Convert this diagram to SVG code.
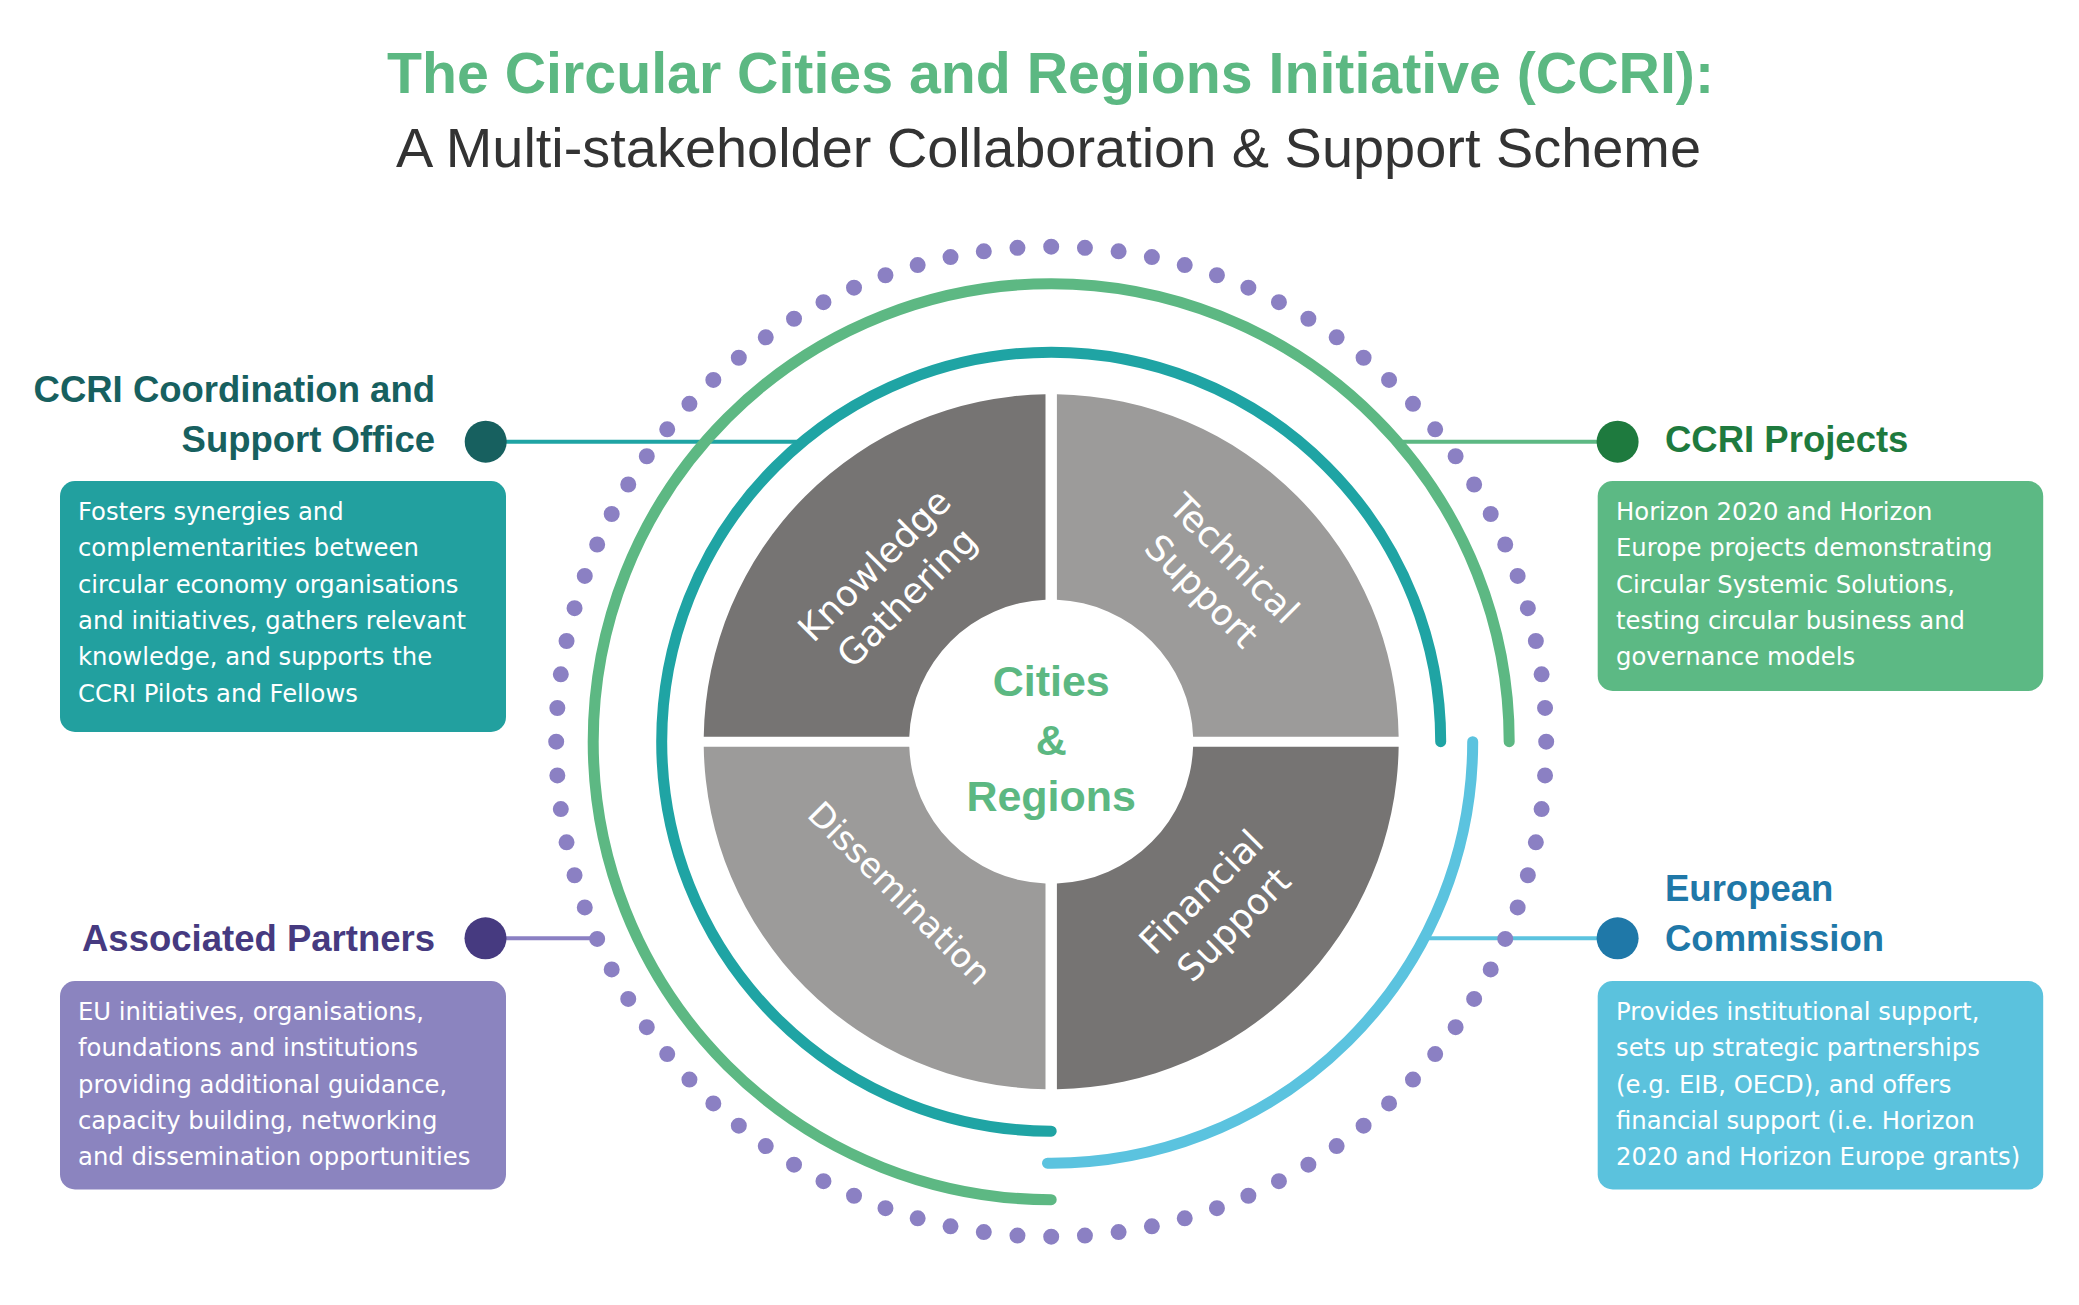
<svg xmlns="http://www.w3.org/2000/svg" width="2079" height="1305" viewBox="0 0 2079 1305">
<style>
.title{font-family:"Liberation Sans",Arial,sans-serif;font-weight:bold;font-size:57px;fill:#5cb882}
.subtitle{font-family:"Liberation Sans",Arial,sans-serif;font-size:56px;fill:#333333}
.hdr{font-family:"Liberation Sans",Arial,sans-serif;font-weight:bold;font-size:36.5px}
.body{font-family:"DejaVu Sans",sans-serif;font-size:24.3px;fill:#ffffff}
.seg{font-family:"DejaVu Sans",sans-serif;font-size:36px;fill:#ffffff;text-anchor:middle}
.center{font-family:"Liberation Sans",Arial,sans-serif;font-weight:bold;font-size:43px;fill:#5cb882;text-anchor:middle}
.ring{fill:none;stroke-width:11;stroke-linecap:round}
.conn{fill:none;stroke-width:4}
.dark{fill:#767473}
.light{fill:#9c9b9a}
</style>
<rect width="2079" height="1305" fill="#ffffff"/>

<g id="title">
<text class="title" x="387" y="93.3" textLength="1327" lengthAdjust="spacingAndGlyphs">The Circular Cities and Regions Initiative (CCRI):</text>
<text class="subtitle" x="396" y="166.5" textLength="1305" lengthAdjust="spacingAndGlyphs">A Multi-stakeholder Collaboration &amp; Support Scheme</text>
</g>

<g id="connectors">
<path class="conn" stroke="#1fa4a4" d="M485.7 441.7 H803"/>
<path class="conn" stroke="#5db883" d="M1397 441.7 H1617.6"/>
<path class="conn" stroke="#8b80c3" d="M485.5 938.3 H597"/>
<path class="conn" stroke="#5bc3df" d="M1424 938.3 H1617.6"/>
</g>

<g id="rings">
<circle cx="1051.2" cy="741.7" r="495" fill="none" stroke="#8b80c3" stroke-width="16" stroke-linecap="round" stroke-dasharray="0 1" pathLength="92"/>
<path class="ring" stroke="#5db883" d="M1051.2 1199.7 A458 458 0 1 1 1509.2 741.7"/>
<path class="ring" stroke="#5bc3df" d="M1472.7 741.7 A421.5 421.5 0 0 1 1047.5 1163.2"/>
<path class="ring" stroke="#1fa4a4" d="M1051.2 1131.2 A389.5 389.5 0 1 1 1440.7 741.7"/>
</g>

<g id="knowledge-gathering">
<path class="dark" d="M703.74 736.7 A347.5 347.5 0 0 1 1045.5 394.25 L1045.5 599.8 A142 142 0 0 0 909.29 736.7 Z"/>
<g transform="translate(892.3 583) rotate(-45)">
<text class="seg" x="0" y="-13">Knowledge</text>
<text class="seg" x="0" y="33">Gathering</text>
</g>
</g>

<g id="technical-support">
<path class="light" d="M1056.9 394.25 A347.5 347.5 0 0 1 1398.66 736.7 L1193.11 736.7 A142 142 0 0 0 1056.9 599.8 Z"/>
<g transform="translate(1216.1 576.6) rotate(45)">
<text class="seg" x="0" y="-13">Technical</text>
<text class="seg" x="0" y="33">Support</text>
</g>
</g>

<g id="financial-support">
<path class="dark" d="M1398.66 746.7 A347.5 347.5 0 0 1 1056.9 1089.15 L1056.9 883.6 A142 142 0 0 0 1193.11 746.7 Z"/>
<g transform="translate(1219.3 910) rotate(-45)">
<text class="seg" x="0" y="-13">Financial</text>
<text class="seg" x="0" y="33">Support</text>
</g>
</g>

<g id="dissemination">
<path class="light" d="M1045.5 1089.15 A347.5 347.5 0 0 1 703.74 746.7 L909.29 746.7 A142 142 0 0 0 1045.5 883.6 Z"/>
<g transform="translate(898.3 894.4) rotate(45)">
<text class="seg" x="0" y="10" style="font-size:34px">Dissemination</text>
</g>
</g>

<g id="cities-regions">
<text class="center" x="1051.2" y="696">Cities</text>
<text class="center" x="1051.2" y="755">&amp;</text>
<text class="center" x="1051.2" y="811">Regions</text>
</g>

<g id="coordination-office">
<circle cx="485.7" cy="441.7" r="21" fill="#17605f"/>
<text class="hdr" fill="#17605f" text-anchor="end" x="435" y="401.5">CCRI Coordination and</text>
<text class="hdr" fill="#17605f" text-anchor="end" x="435" y="451.7">Support Office</text>
<rect x="60" y="481" width="446" height="251" rx="15" fill="#22a09f"/>
<text class="body" x="78" y="520">Fosters synergies and</text>
<text class="body" x="78" y="556.3">complementarities between</text>
<text class="body" x="78" y="592.6">circular economy organisations</text>
<text class="body" x="78" y="628.9">and initiatives, gathers relevant</text>
<text class="body" x="78" y="665.2">knowledge, and supports the</text>
<text class="body" x="78" y="701.5">CCRI Pilots and Fellows</text>
</g>

<g id="ccri-projects">
<circle cx="1617.6" cy="441.7" r="21" fill="#1e7a3e"/>
<text class="hdr" fill="#1e7a3e" x="1665" y="452">CCRI Projects</text>
<rect x="1597.7" y="481" width="445.5" height="210" rx="15" fill="#5cb984"/>
<text class="body" x="1616" y="520">Horizon 2020 and Horizon</text>
<text class="body" x="1616" y="556.3">Europe projects demonstrating</text>
<text class="body" x="1616" y="592.6">Circular Systemic Solutions,</text>
<text class="body" x="1616" y="628.9">testing circular business and</text>
<text class="body" x="1616" y="665.2">governance models</text>
</g>

<g id="associated-partners">
<circle cx="485.5" cy="938.3" r="21" fill="#463a80"/>
<text class="hdr" fill="#463a80" text-anchor="end" x="435" y="951">Associated Partners</text>
<rect x="60" y="981" width="446" height="208.5" rx="15" fill="#8b84bf"/>
<text class="body" x="78" y="1020">EU initiatives, organisations,</text>
<text class="body" x="78" y="1056.3">foundations and institutions</text>
<text class="body" x="78" y="1092.6">providing additional guidance,</text>
<text class="body" x="78" y="1128.9">capacity building, networking</text>
<text class="body" x="78" y="1165.2">and dissemination opportunities</text>
</g>

<g id="european-commission">
<circle cx="1617.6" cy="938.3" r="21" fill="#1f78a8"/>
<text class="hdr" fill="#1f78a8" x="1665" y="900.5">European</text>
<text class="hdr" fill="#1f78a8" x="1665" y="951">Commission</text>
<rect x="1597.7" y="981" width="445.5" height="208.5" rx="15" fill="#5bc2dd"/>
<text class="body" x="1616" y="1020">Provides institutional support,</text>
<text class="body" x="1616" y="1056.3">sets up strategic partnerships</text>
<text class="body" x="1616" y="1092.6">(e.g. EIB, OECD), and offers</text>
<text class="body" x="1616" y="1128.9">financial support (i.e. Horizon</text>
<text class="body" x="1616" y="1165.2">2020 and Horizon Europe grants)</text>
</g>
</svg>
